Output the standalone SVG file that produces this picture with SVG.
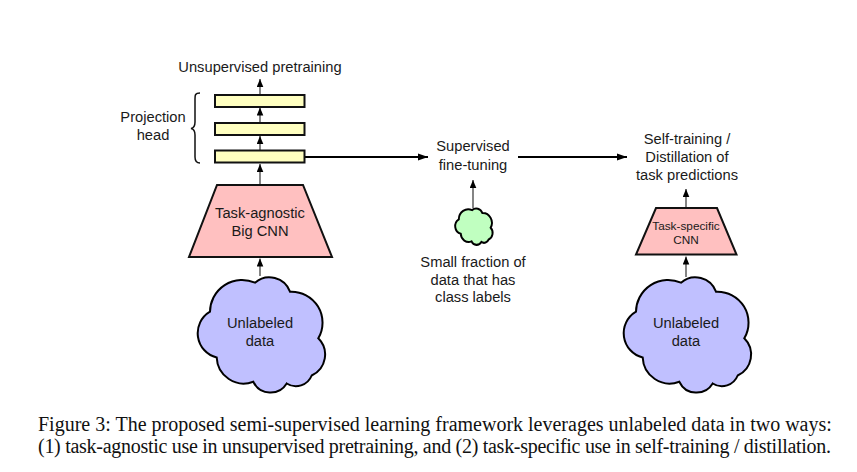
<svg xmlns="http://www.w3.org/2000/svg" width="857" height="472" viewBox="0 0 857 472">
  <style>
    text { font-family: "Liberation Sans", Arial, sans-serif; font-size: 14.7px; fill: #1a1a1a; text-anchor: middle; }
    .caption { font-family: "Liberation Serif", "Times New Roman", serif; font-size: 20px; text-anchor: start; fill: #111; }
    .small { font-size: 11.8px; }
    .bar { fill: #ffffc0; stroke: #111; stroke-width: 2; }
    .trap { fill: #ffc0c0; stroke: #111; stroke-width: 2; }
    .cloud { fill: #c0c0ff; stroke: #000; stroke-width: 2; }
    .small-cloud { fill: #c0ffc0; stroke: #000; stroke-width: 6.5; }
    .thin { fill: none; stroke: #333; stroke-width: 1.2; marker-end: url(#tip); }
    .thick { fill: none; stroke: #000; stroke-width: 2; marker-end: url(#tip-wide); }
    .brace { fill: none; stroke: #111; stroke-width: 1.5; }
  </style>
  <defs>
    <marker id="tip" markerUnits="userSpaceOnUse" markerWidth="8" markerHeight="7" refX="8" refY="3.500" orient="auto" viewBox="0 0 8 7">
      <path d="M0 0.200 L8 3.500 L0 6.800 Z" fill="#000"/>
    </marker>
    <marker id="tip-wide" markerUnits="userSpaceOnUse" markerWidth="11" markerHeight="8" refX="10" refY="4" orient="auto" viewBox="0 0 11 8">
      <path d="M0 0.500 L10 4 L0 7.500 Z" fill="#000"/>
    </marker>
    <path id="cloud-shape" d="M255 282.700 A22 22 0 0 1 290 291.700 A31 31 0 0 1 318.300 338.300 A23 23 0 0 1 311.700 375.500 A17 17 0 0 1 286.700 383.500 A19 19 0 0 1 253.300 381.700 A27 27 0 0 1 216.700 357.500 A25 25 0 0 1 210 311.700 A32 32 0 0 1 255 282.700 Z"/>
  </defs>

  <g id="connectors">
    <path class="thin" d="M260 95 V79"/>
    <path class="thin" d="M260 123 V107.500"/>
    <path class="thin" d="M260 150.500 V136"/>
    <path class="thin" d="M260 185 V164"/>
    <path class="thin" d="M260 276 V258.500"/>
    <path class="thick" d="M305 157 H428"/>
    <path class="thick" d="M518 157 H627"/>
    <path class="thin" d="M473 208 V180"/>
    <path class="thin" d="M686 208 V189"/>
    <path class="thin" d="M686 277 V256.500"/>
  </g>

  <g id="pretraining-label"><text x="260" y="72">Unsupervised pretraining</text></g>

  <g id="projection-head">
    <rect class="bar" x="215" y="95" width="89.500" height="12"/>
    <rect class="bar" x="215" y="123" width="89.500" height="12"/>
    <rect class="bar" x="215" y="150.500" width="89.500" height="12"/>
    <path class="brace" d="M200 93 C195 93 195 95 195 99 V122 C195 126 194 128 191 128.500 C194 129 195 131 195 135 V157 C195 161 196 163 200 163"/>
    <text x="153" y="122">Projection</text>
    <text x="153" y="140">head</text>
  </g>

  <g id="big-cnn">
    <path class="trap" d="M217 185 H303 L332 257 H189 Z"/>
    <text x="260" y="218">Task-agnostic</text>
    <text x="260" y="236">Big CNN</text>
  </g>

  <g id="unlabeled-left">
    <use href="#cloud-shape" class="cloud"/>
    <text x="260" y="328">Unlabeled</text>
    <text x="260" y="346">data</text>
  </g>

  <g id="fine-tuning">
    <text x="473" y="151">Supervised</text>
    <text x="473" y="170">fine-tuning</text>
  </g>

  <g id="labeled-fraction">
    <use href="#cloud-shape" class="small-cloud" transform="translate(473.500 226.500) scale(0.294 0.316) translate(-260 -334.500)"/>
    <text x="473" y="267">Small fraction of</text>
    <text x="473" y="285">data that has</text>
    <text x="473" y="302">class labels</text>
  </g>

  <g id="task-predictions">
    <text x="687" y="144">Self-training /</text>
    <text x="687" y="162">Distillation of</text>
    <text x="687" y="180">task predictions</text>
  </g>

  <g id="task-cnn">
    <path class="trap" d="M656 208 H717 L736.500 254.500 H636 Z"/>
    <text class="small" x="686" y="230">Task-specific</text>
    <text class="small" x="686" y="244">CNN</text>
  </g>

  <g id="unlabeled-right">
    <use href="#cloud-shape" class="cloud" transform="translate(426 0)"/>
    <text x="686" y="328">Unlabeled</text>
    <text x="686" y="346">data</text>
  </g>

  <g id="caption">
    <text class="caption" x="38" y="431">Figure 3: The proposed semi-supervised learning framework leverages unlabeled data in two ways:</text>
    <text class="caption" x="38" y="453" textLength="793" lengthAdjust="spacing">(1) task-agnostic use in unsupervised pretraining, and (2) task-specific use in self-training / distillation.</text>
  </g>
</svg>
